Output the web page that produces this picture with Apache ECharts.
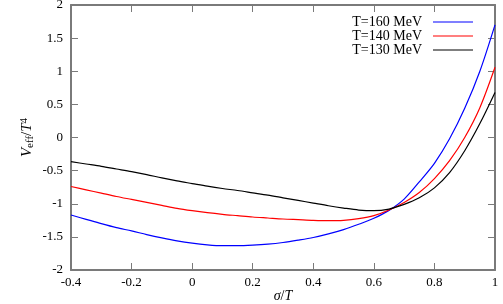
<!DOCTYPE html>
<html>
<head>
<meta charset="utf-8">
<script src="https://cdn.jsdelivr.net/npm/echarts@6/dist/echarts.min.js"></script>
<style>html,body{margin:0;padding:0;background:#fff;}#c{width:503px;height:304px;}</style>
</head>
<body>
<div id="c"></div>
<script>
const xValues = [-0.4,-0.35,-0.3,-0.25,-0.2,-0.15,-0.1,-0.05,0,0.05,0.1,0.15,0.2,0.25,0.3,0.35,0.4,0.45,0.5,0.55,0.6,0.65,0.7,0.75,0.8,0.85,0.9,0.95,1.0];
const seriesNames = ['T=160 MeV','T=140 MeV','T=130 MeV'];
const t160 = [-1.17,-1.235,-1.30,-1.36,-1.41,-1.465,-1.515,-1.56,-1.595,-1.62,-1.633,-1.633,-1.625,-1.61,-1.585,-1.55,-1.51,-1.455,-1.39,-1.31,-1.22,-1.10,-0.93,-0.67,-0.39,-0.02,0.44,1.00,1.70];
const t140 = [-0.74,-0.79,-0.84,-0.89,-0.935,-0.98,-1.025,-1.07,-1.105,-1.135,-1.16,-1.18,-1.20,-1.215,-1.23,-1.24,-1.25,-1.255,-1.25,-1.225,-1.18,-1.095,-0.98,-0.83,-0.62,-0.35,0.0,0.45,1.06];
const t130 = [-0.365,-0.40,-0.435,-0.475,-0.515,-0.56,-0.61,-0.655,-0.695,-0.735,-0.77,-0.80,-0.835,-0.87,-0.91,-0.95,-0.99,-1.03,-1.065,-1.095,-1.105,-1.08,-1.01,-0.91,-0.76,-0.53,-0.20,0.21,0.68];
const colors = ['#0000ff','#ff0000','#000000'];
const xTicks = {min:-0.4, max:1.0, interval:0.2};
const yTicks = {min:-2, max:2, interval:0.5};

const font = 'Liberation Serif';
const frame = '#7a7a7a';
function pairs(ys){ return xValues.map((x,i)=>[x, ys[i]]); }
function fmt(v){ return String(Math.round(v*10)/10); }

const chart = echarts.init(document.getElementById('c'), null, {renderer:'canvas'});
const baseAxisX = {
  type:'value', min:xTicks.min, max:xTicks.max, interval:xTicks.interval,
  axisLine:{show:true, onZero:false, lineStyle:{color:frame, width:2}},
  axisTick:{show:true, inside:true, length:7, lineStyle:{color:frame, width:1}},
  splitLine:{show:false}
};
const baseAxisY = {
  type:'value', min:yTicks.min, max:yTicks.max, interval:yTicks.interval,
  axisLine:{show:true, onZero:false, lineStyle:{color:frame, width:2}},
  axisTick:{show:true, inside:true, length:7, lineStyle:{color:frame, width:1}},
  splitLine:{show:false}
};
chart.setOption({
  animation:false,
  grid:{left:71, right:8, top:5, bottom:34, containLabel:false, outerBoundsMode:'none'},
  legend:{
    right:25, top:10, orient:'vertical', align:'right', itemGap:0,
    icon:'rect', itemWidth:40, itemHeight:1.2,
    textStyle:{fontFamily:font, fontSize:14, color:'#000', padding:[0,6,0,0]},
    data:seriesNames
  },
  xAxis:[
    Object.assign({}, baseAxisX, {position:'bottom',
      axisLabel:{show:true, margin:6, fontFamily:font, fontSize:13, color:'#000', formatter:fmt},
      name:'{i|σ}/{i|T}', nameLocation:'middle', nameGap:19, nameMoveOverlap:false,
      nameTextStyle:{fontFamily:font, fontSize:14, color:'#000', rich:{i:{fontStyle:'italic', fontFamily:font, fontSize:14}}}
    }),
    Object.assign({}, baseAxisX, {position:'top', axisLabel:{show:false}})
  ],
  yAxis:[
    Object.assign({}, baseAxisY, {position:'left',
      axisLabel:{show:true, margin:8, fontFamily:font, fontSize:13, color:'#000', formatter:fmt},
      name:'{i|V}{sub|eff}{n|/}{i|T}{sup|4}', nameLocation:'middle', nameGap:35, nameRotate:90, nameMoveOverlap:false,
      nameTextStyle:{fontFamily:font, fontSize:15, color:'#000', rich:{
        i:{fontStyle:'italic', fontFamily:font, fontSize:15},
        n:{fontFamily:font, fontSize:15},
        sub:{fontFamily:font, fontSize:11, verticalAlign:'bottom', padding:[6,0,0,0]},
        sup:{fontFamily:font, fontSize:11, verticalAlign:'top', padding:[0,0,6,0]}
      }}
    }),
    Object.assign({}, baseAxisY, {position:'right', axisLabel:{show:false}})
  ],
  series:[t160,t140,t130].map((d,i)=>({
    name:seriesNames[i], type:'line', xAxisIndex:0, yAxisIndex:0,
    data:pairs(d), smooth:0.3, showSymbol:false, symbol:'none',
    lineStyle:{color:colors[i], width:1.2}, itemStyle:{color:colors[i]}
  }))
});
</script>
</body>
</html>
